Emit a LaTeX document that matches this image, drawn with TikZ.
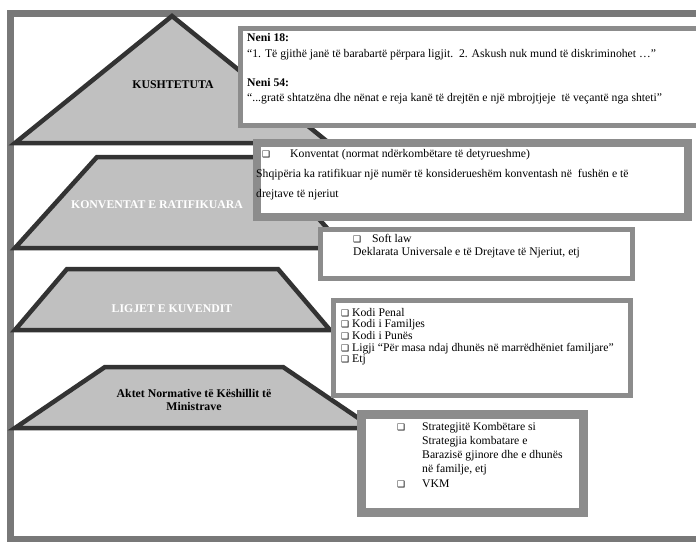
\documentclass[tikz,border=0pt]{standalone}
\usepackage{fontspec}
\setmainfont{Liberation Serif}
\newfontfamily\boxsym{DejaVu Sans}
\usetikzlibrary{positioning}
\definecolor{shapegray}{HTML}{C0C0C0}
\definecolor{edgedark}{HTML}{333333}
\definecolor{framegray}{HTML}{787878}
\definecolor{boxgray}{HTML}{8C8C8C}
\tikzset{
outerframe/.style={draw=framegray,line width=7pt},
level/.style={draw=edgedark,fill=shapegray,line width=4.5pt},
levellabel/.style={font=\fontsize{11.8}{13.5}\selectfont\bfseries,align=center,inner sep=0pt},
box/.style={draw=boxgray,fill=white,line width=#1,anchor=north west,inner sep=0pt},
box/.default={5pt},
line/.style={anchor=base west,inner sep=0pt,font=\fontsize{11.7}{13}\selectfont},
chk/.style={anchor=base west,inner sep=0pt,font=\boxsym\fontsize{9}{10}\selectfont},
}
\newcommand{\chkbox}{❑}

\begin{document}
\begin{tikzpicture}[x=1pt,y=-1pt]
\useasboundingbox (0,0) rectangle (696,541);
\fill[white] (0,0) rectangle (696,541);
\draw[outerframe] (730,13) -- (10.5,13) -- (10.5,539.5) -- (730,539.5);

% the levels of the pyramid
\draw[level] (15,143) -- (172,16) -- (329,143) -- cycle;
\draw[level] (15,248) -- (97,157) -- (263,157) -- (345,248) -- cycle;
\draw[level] (15,330) -- (67,269) -- (278,269) -- (330,330) -- cycle;
\draw[level] (15,428) -- (105,367) -- (283,367) -- (373,428) -- cycle;

\node[levellabel] (kushtetuta) at (173,85) {KUSHTETUTA};
\node[levellabel,white] (konventat) at (157,205) {KONVENTAT E RATIFIKUARA};
\node[levellabel,white] (ligjet) at (172,309) {LIGJET E KUVENDIT};
\node[levellabel] (aktet) at (194,400) {Aktet Normative të Këshillit të\\Ministrave};

% boxes on the right
\node[box,minimum width=490pt,minimum height=97pt] (neni) at (237.5,25.5) {};
\node[box=8pt,minimum width=431pt,minimum height=74pt] (konv) at (253,139) {};
\node[box,minimum width=312pt,minimum height=49pt] (soft) at (317.5,226.5) {};
\node[box,minimum width=297pt,minimum height=95pt] (kodi) at (330.5,297.5) {};
\node[box=9pt,minimum width=222pt,minimum height=98pt] (strat) at (356.5,409.5) {};

\node[line,font=\fontsize{11.7}{13}\selectfont\bfseries] (n18) at (247,41) {Neni 18:};
\node[line] (n18a) at (247,57) {“1. Të gjithë janë të barabartë përpara ligjit.~~2. Askush nuk mund të diskriminohet …”};
\node[line,font=\fontsize{11.7}{13}\selectfont\bfseries] (n54) at (247,86) {Neni 54:};
\node[line] (n54a) at (247,101) {“...gratë shtatzëna dhe nënat e reja kanë të drejtën e një mbrojtjeje~ të veçantë nga shteti”};

\node[chk] (k0) at (262,157) {\chkbox};
\node[line] (k1) at (290,157) {Konventat (normat ndërkombëtare të detyrueshme)};
\node[line] (k2) at (256,177) {Shqipëria ka ratifikuar një numër të konsiderueshëm konventash në~ fushën e të};
\node[line] (k3) at (256,197) {drejtave të njeriut};

\node[chk] (s0) at (353,242) {\chkbox};
\node[line] (s1) at (372,242) {Soft law};
\node[line] (s2) at (353,255) {Deklarata Universale e të Drejtave të Njeriut, etj};

\node[line] (l1) at (341,316) {{\boxsym\fontsize{9}{10}\selectfont\chkbox} Kodi Penal};
\node[line] (l2) at (341,327.5) {{\boxsym\fontsize{9}{10}\selectfont\chkbox} Kodi i Familjes};
\node[line] (l3) at (341,339) {{\boxsym\fontsize{9}{10}\selectfont\chkbox} Kodi i Punës};
\node[line] (l4) at (341,351) {{\boxsym\fontsize{9}{10}\selectfont\chkbox} Ligji “Për masa ndaj dhunës në marrëdhëniet familjare”};
\node[line] (l5) at (341,362) {{\boxsym\fontsize{9}{10}\selectfont\chkbox} Etj};

\node[chk] (t0) at (397,430) {\chkbox};
\node[line] (t1) at (422,430) {Strategjitë Kombëtare si};
\node[line] (t2) at (422,444) {Strategjia kombatare e};
\node[line] (t3) at (422,458) {Barazisë gjinore dhe e dhunës};
\node[line] (t4) at (422,472) {në familje, etj};
\node[chk] (v0) at (397,487) {\chkbox};
\node[line] (v1) at (422,487) {VKM};
\end{tikzpicture}
\end{document}
